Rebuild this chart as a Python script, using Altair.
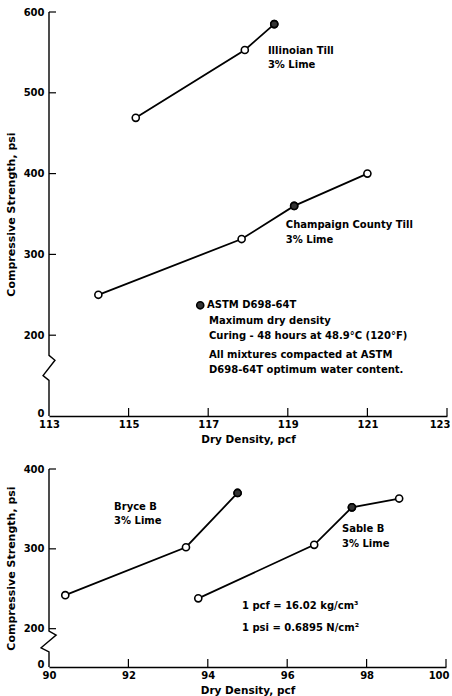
import altair as alt
import pandas as pd

# ---------------- data ----------------
ill_x = [115.18, 117.92, 118.66]
ill_y = [469, 553, 585]
ill_astm = [False, False, True]

champ_x = [114.24, 117.84, 119.16, 121.0]
champ_y = [250, 319, 360, 400]
champ_astm = [False, False, True, False]

bryce_x = [90.41, 93.45, 94.75]
bryce_y = [242, 302, 370]
bryce_astm = [False, False, True]

sable_x = [93.76, 96.68, 97.63, 98.82]
sable_y = [238, 305, 352, 363]
sable_astm = [False, False, True, False]

top_x_ticks = [113, 115, 117, 119, 121, 123]
top_y_ticks = [200, 300, 400, 500, 600]
bot_x_ticks = [90, 92, 94, 96, 98, 100]
bot_y_ticks = [200, 300, 400]

# annotation texts and anchor positions (data units)
top_text = ["Illinoian Till", "3% Lime", "Champaign County Till", "3% Lime",
            "ASTM D698-64T", "Maximum dry density",
            "Curing - 48 hours at 48.9°C (120°F)",
            "All mixtures compacted at ASTM",
            "D698-64T optimum water content."]
top_text_x = [118.5, 118.5, 118.95, 118.95, 116.97, 117.02, 117.02, 117.02, 117.02]
top_text_y = [551.5, 534, 336.7, 318, 237, 217.8, 198.4, 175.3, 156.8]
key_x = [116.8]
key_y = [237]

bot_text = ["Bryce B", "3% Lime", "Sable B", "3% Lime",
            "1 pcf = 16.02 kg/cm³", "1 psi = 0.6895 N/cm²"]
bot_text_x = [91.64, 91.64, 97.38, 97.38, 94.86, 94.86]
bot_text_y = [352, 334.6, 325, 306, 228.4, 201]

# broken y-axis paths (axis line with the zig-zag break)
top_axis_x = [113, 113, 113.15, 112.85, 113, 113]
top_axis_y = [600, 175, 169, 150, 144, 100]
bot_axis_x = [90, 90, 90.18, 89.8, 90, 90]
bot_axis_y = [400, 197, 192, 176, 171, 152]

FONT = "DejaVu Sans"


def series_frame(parts):
    rows = []
    for name, xs, ys, flags in parts:
        for xv, yv, fl in zip(xs, ys, flags):
            rows.append({"series": name, "x": xv, "y": yv, "astm": fl})
    return pd.DataFrame(rows)


def panel(parts, texts, tx, ty, x_dom, y_dom, x_ticks, y_ticks, zero_pos,
          ax_x, ax_y, w, h, kx=None, ky=None):
    last = x_ticks[-1]
    X = alt.X("x:Q", scale=alt.Scale(domain=x_dom, nice=False, zero=False),
              axis=alt.Axis(values=x_ticks, title="Dry Density, pcf",
                            ticks=False, tickSize=0, labelPadding=3,
                            labelFlush=False,
                            labelAlign={"condition": {"test": f"datum.value == {last}", "value": "right"},
                                        "value": "center"},
                            labelOffset={"condition": {"test": f"datum.value == {last}", "value": 3},
                                         "value": 0},
                            titleFontSize=10.5,
                            titlePadding=5, grid=False, format="d"))
    Y = alt.Y("y:Q", scale=alt.Scale(domain=y_dom, nice=False, zero=False),
              axis=alt.Axis(values=[zero_pos] + y_ticks,
                            labelExpr=f"datum.value == {zero_pos} ? '0' : datum.label",
                            labelOffset={"condition": {"test": f"datum.value == {zero_pos}", "value": -3},
                                         "value": 0},
                            title="Compressive Strength, psi",
                            titleFontSize=11,
                            ticks=False, tickSize=0, domain=False,
                            labelPadding=5, titlePadding=7, grid=False))
    df = series_frame(parts)
    axis_df = pd.DataFrame({"x": ax_x, "y": ax_y, "o": list(range(len(ax_x)))})
    ytick_df = pd.DataFrame({"y": y_ticks})
    xtick_df = pd.DataFrame({"x": x_ticks[1:]})
    txt_df = pd.DataFrame({"x": tx, "y": ty, "t": texts})

    axis_line = alt.Chart(axis_df).mark_line(color="black", strokeWidth=1.4).encode(
        x=X, y=Y, order="o:Q")
    # inward tick marks, drawn as short ticks offset into the plot
    yt = alt.Chart(ytick_df).transform_calculate(x=f"{x_dom[0]}").mark_tick(
        color="black", thickness=1.2, size=7, orient="horizontal", xOffset=3.5,
        opacity=1).encode(y=Y, x=X)
    xt = alt.Chart(xtick_df).transform_calculate(y=f"{y_dom[0]}").mark_tick(
        color="black", thickness=1.2, size=8, orient="vertical", yOffset=-4,
        opacity=1).encode(x=X, y=Y)
    lines = alt.Chart(df).mark_line(color="black", strokeWidth=1.8).encode(
        x=X, y=Y, detail="series:N")
    pts = alt.Chart(df).mark_point(shape="circle", filled=True, fill="white",
                                   stroke="black", strokeWidth=1.6, size=50,
                                   opacity=1).encode(x=X, y=Y)
    astm = alt.Chart(df).transform_filter("datum.astm").mark_point(
        shape="circle", filled=True, fill="#333", stroke="black",
        strokeWidth=1.6, size=50, opacity=1).encode(x=X, y=Y)
    txt = alt.Chart(txt_df).mark_text(align="left", baseline="middle",
                                      font=FONT, fontSize=10, fontWeight="bold",
                                      color="black").encode(x=X, y=Y, text="t:N")
    layers = [axis_line, yt, xt, lines, pts, astm, txt]
    if kx is not None:
        key_df = pd.DataFrame({"x": kx, "y": ky})
        layers.append(alt.Chart(key_df).mark_point(
            shape="circle", filled=True, fill="#333", stroke="black",
            strokeWidth=1.6, size=50, opacity=1).encode(x=X, y=Y))
    return alt.layer(*layers).properties(width=w, height=h)


top = panel([("Illinoian Till", ill_x, ill_y, ill_astm),
             ("Champaign County Till", champ_x, champ_y, champ_astm)],
            top_text, top_text_x, top_text_y, [113, 123], [100, 600],
            top_x_ticks, top_y_ticks, 100, top_axis_x, top_axis_y, 398, 404,
            key_x, key_y)
bottom = panel([("Bryce B", bryce_x, bryce_y, bryce_astm),
                ("Sable B", sable_x, sable_y, sable_astm)],
               bot_text, bot_text_x, bot_text_y, [90, 100], [152, 400],
               bot_x_ticks, bot_y_ticks, 152, bot_axis_x, bot_axis_y, 397, 198)

chart = alt.vconcat(top, bottom, spacing=19).properties(
    padding={"left": 5, "top": 7, "right": 0, "bottom": 2},
    background="white",
).configure_view(stroke=None).configure_axis(
    labelFont=FONT, labelFontSize=10, labelFontWeight="bold", labelColor="black",
    titleFont=FONT, titleFontWeight="bold", titleColor="black",
    domainColor="black", domainWidth=1.4,
)

chart.save("out.html", embed_options={"renderer": "svg", "actions": False})
